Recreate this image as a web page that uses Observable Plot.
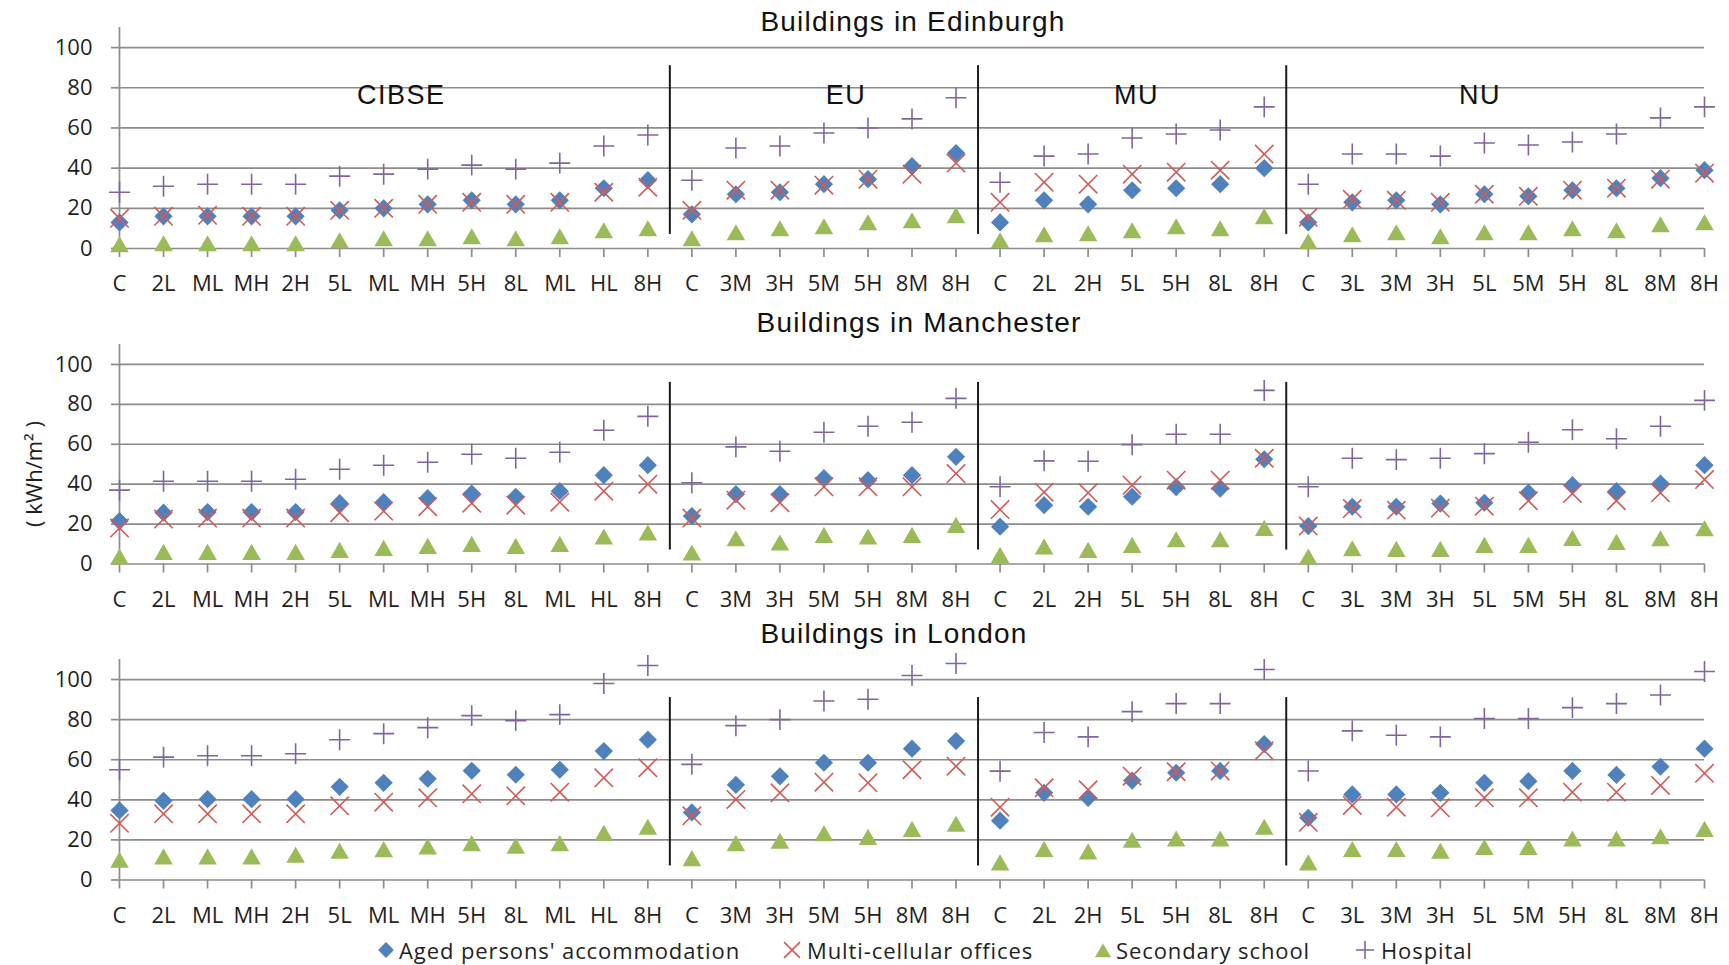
<!DOCTYPE html>
<html>
<head>
<meta charset="utf-8">
<script src="https://cdn.jsdelivr.net/npm/d3@7"></script>
<script src="https://cdn.jsdelivr.net/npm/@observablehq/plot@0.6"></script>
<style>
  body { margin: 0; background: #fff; }
  #root { position: relative; width: 1729px; height: 965px; overflow: hidden; font-family: "Open Sans", sans-serif; color: #1f1f1f; }
  .title { position: absolute; font-family: "Liberation Sans", Arial, sans-serif; font-size: 28px; letter-spacing: 1.2px; color: #111; transform: translate(-50%, -50%); white-space: nowrap; }
  .panel { position: absolute; left: 0; }
  .ylab { position: absolute; font-family: "Open Sans", sans-serif; font-size: 22px; color: #1f1f1f; transform: translate(-50%, -50%) rotate(-90deg); white-space: nowrap; }
  .leg { position: absolute; font-family: "Open Sans", sans-serif; font-size: 22px; letter-spacing: 0.9px; color: #1f1f1f; white-space: nowrap; transform: translateY(-50%); }
  .legsym { position: absolute; transform: translate(-50%, -50%); }
</style>
</head>
<body>
<div id="root"></div>
<script>
// ---------------- DATA ----------------
const categories = ["C","2L","ML","MH","2H","5L","ML","MH","5H","8L","ML","HL","8H",
                    "C","3M","3H","5M","5H","8M","8H",
                    "C","2L","2H","5L","5H","8L","8H",
                    "C","3L","3M","3H","5L","5M","5H","8L","8M","8H"];
const groupNames = ["CIBSE","EU","MU","NU"];
const groupSizes = [13, 7, 7, 10];
const groupLabelAt = [6.4, 16.5, 23.1, 30.9];   // category-index position of each group label
const yTicks = [0, 20, 40, 60, 80, 100];
const seriesNames = ["Aged persons' accommodation", "Multi-cellular offices", "Secondary school", "Hospital"];
const cityTitles = ["Buildings in Edinburgh", "Buildings in Manchester", "Buildings in London"];

const edinburghAged = [13,16,16,16,16,19,20,22,24,22,24,30,34, 17,27,28,32,34.5,41,47.5, 13,24,22,29,30,32,40, 13,23,24,22,27,26,29,30,35,39];
const edinburghOffices = [15,16,16.5,16,16,19,20,22,23,22,23,28,30.5, 19,29,29,31.5,34.5,37,42.5, 23,33,32,37,38,39,47, 15.5,24.5,24,23,27,26,29,30,34.5,37.5];
const edinburghSchool = [2,2.5,2.5,2.5,2.5,4,5,5,6,5,6,9,10, 5,8,10,11,13,14,16.5, 4,7,7.5,9,11,10,16, 3.5,7,8,6,8,8,10,9,12,13];
const edinburghHospital = [28,31,32,32,32,36,37,39.5,41.5,39.5,42.5,51,56.5, 34,50,51,57.5,60,64.5,75, 33,46,47,55,57,59,70.5, 32,47,47,46,52.5,51.5,53,57,65,70.5];

const manchesterAged = [21.5,25.7,26,26,26,30.5,31,33,35.3,33.7,36.5,44.5,49.5, 24,35,35,43,42,44.5,53.7, 18.7,29.5,28.7,33.7,38.5,37.8,52.5, 19,28.7,28.7,30.3,30.7,35.7,39.5,36.5,40.3,49.5];
const manchesterOffices = [18,22.5,23,23,23,25.7,26.5,28.7,30.5,29.5,31,36.5,40, 23,32,30.7,38.7,38.7,38.7,45.3, 27.3,36,35.7,39.5,42,42,53, 19,27.8,27,28,29,31.7,35.3,31.7,35.7,42.3];
const manchesterSchool = [3.7,6,6,6,6,7,8,9,10,9,10,13.7,15.7, 5.7,12.8,10.7,14.5,13.7,14.5,19.5, 4.5,8.7,7,9.5,12.3,12.3,18, 3.7,7.8,7.5,7.5,9.5,9.5,13,11,12.8,17.8];
const manchesterHospital = [37,41.5,41.5,41.5,42.5,47.5,49.5,51,55,53,56,67,74, 40.7,58.7,56.5,66,69,71,83, 38.7,51.7,51.5,59.8,65,65,87, 38.7,53,52.3,53,55.3,61,67.3,62.8,69,82];

const londonAged = [34.7,39.5,40.3,40.3,40.3,46.5,48.5,50.5,54.5,52.5,55,64.3,70, 33.7,47.5,51.7,58.5,58.5,65.5,69.3, 29.6,43.5,41,49.6,53.5,54.4,67.8, 31,42.7,42.7,43.5,48.5,49.3,54.4,52.4,56.5,65.5];
const londonOffices = [28.3,33,33,33,33,37,38.8,41,43,42,43.8,51,56, 32,40.2,43.5,48.8,48.5,55,56.8, 36.3,46,45,51.8,54,54.4,64.5, 28.8,37.2,36.3,36,41,41,43.8,43.8,47.2,53.2];
const londonSchool = [10,11.7,11.7,11.7,12.5,14.5,15.3,16.7,18.3,17,18.3,23.5,26.5, 10.8,18.3,19.5,23.3,21.4,25.4,28, 8.7,15.4,14.2,20,20.6,20.6,26.5, 8.7,15.4,15.4,14.5,16.4,16.4,20.6,20.6,21.7,25.4];
const londonHospital = [55,61.3,62,62,63,70,73,76,82,79.5,82.5,98,107, 57.7,77,80,89.3,90.2,102,108, 54.3,73.6,71.4,84,88,88,105, 54.4,74.4,72.2,71.4,80.6,80.6,86,88,92.3,104];

// ---------------- STYLE ----------------
const GRID = "#8c8c8c";
const styles = [
  {symbol: "diamond2", r: 8.2, fill: "#4F81BD", stroke: "none"},
  {symbol: "times", r: 8.4, fill: "none", stroke: "#D25A57", strokeWidth: 1.6},
  {symbol: "triangle", r: 6.9, fill: "#9BBB59", stroke: "none", dy: 2.5},
  {symbol: "plus", r: 6.8, fill: "none", stroke: "#8064A2", strokeWidth: 1.6}
];

const root = document.getElementById("root");
const N = categories.length;

// separators derived from group sizes
const ends = d3.cumsum(groupSizes);
const seps = Array.from(ends).slice(0, -1).map(e => e - 0.5);
const groupLabels = groupNames.map((g, k) => ({name: g, x: groupLabelAt[k], y: 76}));

function makePanel(series, top, bottom, showGroups) {
  const mt = 10, mb = 52;
  const h = mt + (bottom - top) + mb;
  const marks = [
    Plot.ruleY(yTicks, {x1: 0, x2: N - 1, stroke: GRID, strokeWidth: 1.7}),
    Plot.ruleX([0], {y1: 0, y2: 110, stroke: GRID, strokeWidth: 1.7}),
    Plot.axisY({ticks: yTicks, tickSize: 8, tickPadding: 19, stroke: GRID, strokeWidth: 1.7, fontSize: 22, label: null, tickFormat: d => String(d)}),
    Plot.axisX({ticks: d3.range(N), tickSize: 9, tickPadding: 18, stroke: GRID, strokeWidth: 1.7, fontSize: 22, label: null, tickFormat: i => categories[i]}),
    Plot.ruleX(seps, {y1: 7, y2: 91, stroke: "#1a1a1a", strokeWidth: 2})
  ];
  series.forEach((vals, s) => {
    const data = vals.map((v, i) => ({i, v}));
    marks.push(Plot.dot(data, {x: "i", y: "v", ...styles[s]}));
  });
  if (showGroups) {
    marks.push(Plot.text(groupLabels, {x: "x", y: "y", text: "name", fontSize: 27, fontFamily: "Liberation Sans, Arial, sans-serif", fill: "#111", className: "grouplab"}));
  }
  const svg = Plot.plot({
    width: 1729, height: h,
    marginLeft: 119, marginRight: 25, marginTop: mt, marginBottom: mb,
    x: {type: "linear", domain: [0, N - 1]},
    y: {domain: [0, 110]},
    style: {fontFamily: "Open Sans, sans-serif", fontSize: "22px", color: "#1f1f1f", background: "transparent", overflow: "visible"},
    marks
  });
  svg.querySelectorAll(".grouplab text").forEach(t => t.style.letterSpacing = "1.5px");
  svg.classList.add("panel");
  svg.style.top = (top - mt) + "px";
  root.appendChild(svg);
}

makePanel([edinburghAged, edinburghOffices, edinburghSchool, edinburghHospital], 27, 248, true);
makePanel([manchesterAged, manchesterOffices, manchesterSchool, manchesterHospital], 343.5, 563, false);
makePanel([londonAged, londonOffices, londonSchool, londonHospital], 659, 879.5, false);

// titles
const titlePos = [[913, 22], [919, 323], [894, 634]];
cityTitles.forEach((t, k) => {
  const d = document.createElement("div");
  d.className = "title";
  d.textContent = t;
  d.style.left = titlePos[k][0] + "px";
  d.style.top = titlePos[k][1] + "px";
  root.appendChild(d);
});

// y label
const yl = document.createElement("div");
yl.className = "ylab";
yl.innerHTML = "( kWh/m² )";
yl.style.left = "33px";
yl.style.top = "474px";
root.appendChild(yl);

// legend
const legSym = [386, 792, 1103, 1365];
const legText = [399, 807, 1116, 1381];
const legY = 950;
seriesNames.forEach((name, s) => {
  const st = styles[s];
  const size = st.r * st.r * Math.PI;
  const sym = {diamond2: d3.symbolDiamond2, times: d3.symbolTimes, triangle: d3.symbolTriangle, plus: d3.symbolPlus}[st.symbol];
  const svg = d3.create("svg").attr("width", 26).attr("height", 26).attr("class", "legsym")
    .style("left", legSym[s] + "px").style("top", legY + "px");
  svg.append("path").attr("transform", `translate(13,${13 + (st.dy || 0)})`)
    .attr("d", d3.symbol(sym, size * 0.75)())
    .attr("fill", st.fill).attr("stroke", st.stroke).attr("stroke-width", st.strokeWidth || 0);
  root.appendChild(svg.node());
  const t = document.createElement("div");
  t.className = "leg";
  t.textContent = name;
  t.style.left = legText[s] + "px";
  t.style.top = legY + "px";
  root.appendChild(t);
});
</script>
</body>
</html>
